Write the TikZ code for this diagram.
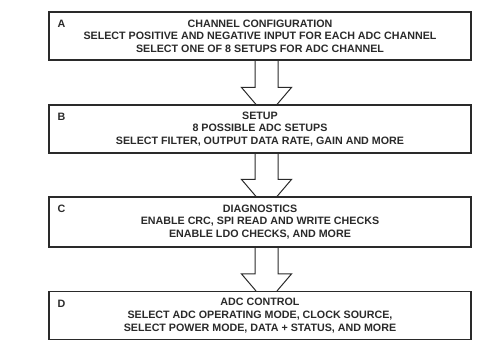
\documentclass[tikz,border=0pt]{standalone}
\usepackage{fontspec}
\setmainfont{Liberation Sans}
\usetikzlibrary{calc}
\definecolor{InkGray}{HTML}{2A2A2A}

\begin{document}
\begin{tikzpicture}[
    x=1pt,y=-1pt,
    every node/.style={font=\bfseries\fontsize{10.7}{12.6}\selectfont,text=InkGray},
    stage/.style={draw=InkGray,line width=1.1pt,fill=white,minimum width=422pt,minimum height=48pt,align=center,inner sep=0pt},
    tag/.style={anchor=north west,inner sep=0pt},
    fat/.style={draw=InkGray,line width=1pt,line join=miter}
  ]
    \useasboundingbox (0,0) rectangle (496,363);
    \node[stage] (A) at (260,36) {CHANNEL CONFIGURATION\\SELECT POSITIVE AND NEGATIVE INPUT FOR EACH ADC CHANNEL\\SELECT ONE OF 8 SETUPS FOR ADC CHANNEL};
    \node[stage] (B) at (260,129) {SETUP\\8 POSSIBLE ADC SETUPS\\SELECT FILTER, OUTPUT DATA RATE, GAIN AND MORE};
    \node[stage,minimum height=50pt] (C) at (260,222) {DIAGNOSTICS\\ENABLE CRC, SPI READ AND WRITE CHECKS\\ENABLE LDO CHECKS, AND MORE};
    \node[stage] (D) at (260,315.5) {ADC CONTROL\\SELECT ADC OPERATING MODE, CLOCK SOURCE,\\SELECT POWER MODE, DATA + STATUS, AND MORE};
    \foreach \s in {A,B,C,D}
      \node[tag] (\s-tag) at ($(\s.north west)+(9,8.5)$) {\s};
    % hollow arrows between stages
    \foreach \from/\to in {A/B,B/C,C/D} {
      \draw[fat] ($(\from.south)+(-5,0)$) -- ($(\to.north)+(-5,-17)$) -- ($(\to.north)+(-18.5,-17)$) -- ($(\to.north)+(-4,0)$);
      \draw[fat] ($(\from.south)+(18,0)$) -- ($(\to.north)+(18,-17)$) -- ($(\to.north)+(31.5,-17)$) -- ($(\to.north)+(17,0)$);
    }
  \end{tikzpicture}
\end{document}
